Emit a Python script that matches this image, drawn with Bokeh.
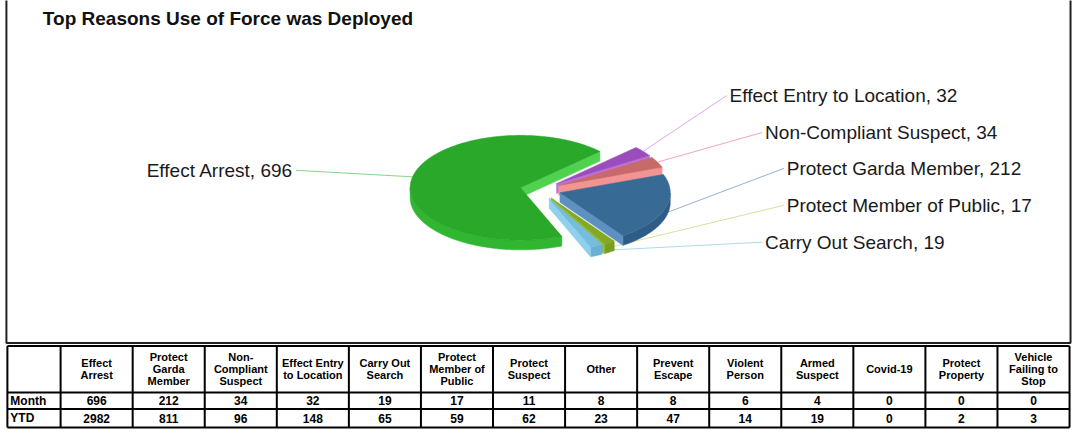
import numpy as np
from bokeh.plotting import figure
from bokeh.models import Range1d
from bokeh.core.properties import value
from bokeh.embed import file_html
from bokeh.resources import INLINE

# ---------------- data ----------------
title = "Top Reasons Use of Force was Deployed"

table_categories = [
    "Effect\nArrest", "Protect\nGarda\nMember", "Non-\nCompliant\nSuspect",
    "Effect Entry\nto Location", "Carry Out\nSearch", "Protect\nMember of\nPublic",
    "Protect\nSuspect", "Other", "Prevent\nEscape", "Violent\nPerson",
    "Armed\nSuspect", "Covid-19", "Protect\nProperty", "Vehicle\nFailing to\nStop",
]
row_names = ["Month", "YTD"]
month_values = [696, 212, 34, 32, 19, 17, 11, 8, 8, 6, 4, 0, 0, 0]
ytd_values = [2982, 811, 96, 148, 65, 59, 62, 23, 47, 14, 19, 0, 2, 3]

# pie slices, in drawing order (clockwise)
pie_labels = ["Effect Arrest", "Effect Entry to Location", "Non-Compliant Suspect",
              "Protect Garda Member", "Protect Member of Public", "Carry Out Search"]
pie_values = [696, 32, 34, 212, 17, 19]

# ---------------- styles ----------------
top_colors = ["#2AA82A", "#9C4DBD", "#C96A6A", "#386A96", "#82A824", "#76BCDC"]
face_colors = ["#4FD24F", "#BF72E0", "#F29494", "#5F90C2", "#93BD2C", "#8FD0EC"]
rim_colors = ["#31B631", "#8A44A8", "#B85C5C", "#2F5C86", "#7A9E20", "#6BB0D4"]
leader_colors = ["#86D586", "#DCA8EC", "#F4A8B0", "#8FB3D3", "#D5E39A", "#AADAF0"]
# label layout: (x, y, align)
label_layout = {
    "Effect Arrest": (297, 175, "right"),
    "Effect Entry to Location": (740, 98, "left"),
    "Non-Compliant Suspect": (776, 136, "left"),
    "Protect Garda Member": (798, 173, "left"),
    "Protect Member of Public": (798, 211, "left"),
    "Carry Out Search": (776, 249, "left"),
}
FONT = value("Liberation Sans")

CX, CY, RX, RY, DEPTH, EXPLODE = 548.0, 195.0, 112.0, 54.0, 10.0, 0.185
START = 292.0

p = figure(width=1072, height=429, x_range=Range1d(0, 1088), y_range=Range1d(442, 0),
           output_backend="svg", toolbar_location=None, min_border=0)
p.xaxis.visible = False
p.yaxis.visible = False
p.xgrid.visible = False
p.ygrid.visible = False
p.outline_line_color = None
p.background_fill_color = "white"
p.border_fill_color = "white"

# chart frame
p.line(x=[6, 6, 1086, 1086], y=[-5, 353, 353, -5], line_color="#222222", line_width=2)

p.text(x=[43], y=[19], text=[title], text_font=FONT, text_font_size="19px",
       text_font_style="bold", text_baseline="middle", text_align="left", text_color="#111111")

# ---------------- 3D pie ----------------
total = float(sum(pie_values))
side_xs, side_ys, side_c = [], [], []
top_xs, top_ys, top_c = [], [], []
lead_xs, lead_ys, lead_c = [], [], []
lab_x, lab_y, lab_t, lab_a = [], [], [], []

cum = 0.0
for i, v in enumerate(pie_values):
    a0 = START - cum * 360.0 / total
    a1 = a0 - v * 360.0 / total
    cum += v
    mid = np.radians((a0 + a1) / 2.0)
    sx = CX + EXPLODE * RX * np.cos(mid)
    sy = CY - EXPLODE * RY * np.sin(mid)
    n = max(int(abs(a0 - a1)) * 2, 6)
    ts = np.radians(np.linspace(a0, a1, n))
    ex = sx + RX * np.cos(ts)
    ey = sy - RY * np.sin(ts)
    # top face
    top_xs.append([sx] + list(ex))
    top_ys.append([sy] + list(ey))
    top_c.append(top_colors[i])
    # outer rim (front half only)
    front = np.sin(ts) < 0
    idx = np.where(front)[0]
    if len(idx):
        runs = np.split(idx, np.where(np.diff(idx) != 1)[0] + 1)
        for r in runs:
            if len(r) < 2:
                continue
            xx = list(ex[r]) + list(ex[r][::-1])
            yy = list(ey[r]) + list((ey[r] + DEPTH)[::-1])
            side_xs.append(xx)
            side_ys.append(yy)
            side_c.append(rim_colors[i])
    # radial faces
    for ang, vis in ((a0, np.cos(np.radians(a0)) < 0), (a1, np.cos(np.radians(a1)) > 0)):
        if vis:
            qx = sx + RX * np.cos(np.radians(ang))
            qy = sy - RY * np.sin(np.radians(ang))
            side_xs.append([sx, qx, qx, sx])
            side_ys.append([sy, qy, qy + DEPTH, sy + DEPTH])
            side_c.append(face_colors[i])
    # leader line
    ox = sx + RX * np.cos(mid)
    oy = sy - RY * np.sin(mid)
    if np.sin(mid) < -0.2:
        oy += DEPTH * 0.5
    lx, ly, la = label_layout[pie_labels[i]]
    endx = lx + 3 if la == "right" else lx - 3
    lead_xs.append([ox, endx])
    lead_ys.append([oy, ly])
    lead_c.append(leader_colors[i])
    lab_x.append(lx)
    lab_y.append(ly)
    lab_t.append(f"{pie_labels[i]}, {v}")
    lab_a.append(la)

p.multi_line(xs=lead_xs, ys=lead_ys, line_color=lead_c, line_width=1)
p.patches(xs=side_xs, ys=side_ys, fill_color=side_c, line_color=side_c, line_width=0.5)
p.patches(xs=top_xs, ys=top_ys, fill_color=top_c, line_color=top_c, line_width=0.5)

for a in ("left", "right"):
    sel = [k for k in range(len(lab_t)) if lab_a[k] == a]
    p.text(x=[lab_x[k] for k in sel], y=[lab_y[k] for k in sel], text=[lab_t[k] for k in sel],
           text_font=FONT, text_font_size="19px", text_baseline="middle",
           text_align=a, text_color="#1a1a1a")

# ---------------- table ----------------
TX0, TX1, TXC = 7.0, 1085.0, 61.0
row_edges = [356.0, 404.0, 421.0, 440.0]
ncol = len(table_categories)
cw = (TX1 - TXC) / ncol
col_edges = [TX0, TXC] + [TXC + cw * (k + 1) for k in range(ncol)]

p.multi_line(xs=[[TX0, TX1] for _ in row_edges], ys=[[y, y] for y in row_edges],
             line_color="black", line_width=2)
p.multi_line(xs=[[x, x] for x in col_edges], ys=[[row_edges[0], row_edges[-1]] for _ in col_edges],
             line_color="black", line_width=2)

hx, hy, ht = [], [], []
hc = (row_edges[0] + row_edges[1]) / 2.0
for k, cat in enumerate(table_categories):
    lines = cat.split("\n")
    cx = TXC + cw * (k + 0.5)
    for j, ln in enumerate(lines):
        hx.append(cx)
        hy.append(hc + (j - (len(lines) - 1) / 2.0) * 12.5)
        ht.append(ln)
p.text(x=hx, y=hy, text=ht, text_font=FONT, text_font_size="11px", text_font_style="bold",
       text_baseline="middle", text_align="center", text_color="black")

vx, vy, vt = [], [], []
for r, vals in enumerate([month_values, ytd_values]):
    yc = (row_edges[r + 1] + row_edges[r + 2]) / 2.0
    for k, val in enumerate(vals):
        vx.append(TXC + cw * (k + 0.5))
        vy.append(yc)
        vt.append(str(val))
p.text(x=vx, y=vy, text=vt, text_font=FONT, text_font_size="12px", text_font_style="bold",
       text_baseline="middle", text_align="center", text_color="black")

p.text(x=[TX0 + 3] * 2, y=[(row_edges[1] + row_edges[2]) / 2.0, (row_edges[2] + row_edges[3]) / 2.0],
       text=row_names, text_font=FONT, text_font_size="12px", text_font_style="bold",
       text_baseline="middle", text_align="left", text_color="black")

open("out.html", "w").write(file_html(p, INLINE))
